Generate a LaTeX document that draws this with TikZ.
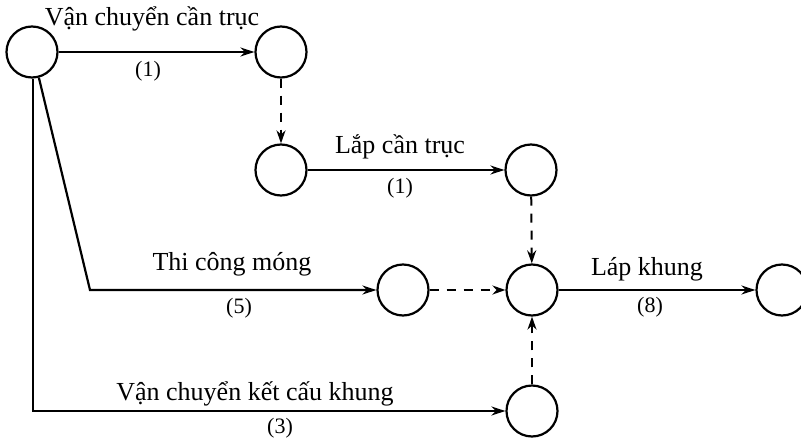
\documentclass[tikz,border=0pt]{standalone}
\usepackage{fontspec}
\setmainfont{Liberation Serif}
\usetikzlibrary{arrows.meta}
\begin{document}
\begin{tikzpicture}[x=1pt,y=-1pt,
  ev/.style={draw,circle,line width=2.2pt,minimum size=51pt,inner sep=0pt},
  act/.style={line width=2.2pt,-{Stealth[length=14pt,width=9pt]}},
  dum/.style={line width=2pt,dash pattern=on 9pt off 8pt,-{Stealth[length=13pt,width=9pt]}},
  lbl/.style={font=\fontsize{26}{30}\selectfont,anchor=base},
  num/.style={font=\fontsize{22}{26}\selectfont}]
\useasboundingbox (0,0) rectangle (801,442);
\node[ev] (A) at (32,52) {};
\node[ev] (B) at (281,52) {};
\node[ev] (C) at (281,170) {};
\node[ev] (D) at (531,170) {};
\node[ev] (E) at (403,290) {};
\node[ev] (F) at (532,290) {};
\node[ev] (G) at (782,290) {};
\node[ev] (H) at (532,411) {};
\coordinate (k1) at (90,290);
\coordinate (k2) at (33,411);
% activities
\draw[act] (A) -- (B);
\draw[act] (C) -- (D);
\draw[act] (A.-75) -- (k1) -- (E);
\draw[act] (A.south -| k2) -- (k2) -- (H);
\draw[act] (F) -- (G);
% dummies
\draw[dum] (B) -- (C);
\draw[dum] (D) -- (F);
\draw[dum] (E) -- (F);
\draw[dum] (H) -- (F);
% labels
\node[lbl] (t1) at (152,25) {Vận chuyển cần trục};
\node[num] (n1) at (148,71) {(1)};
\node[lbl] (t2) at (400,153) {Lắp cần trục};
\node[num] (n2) at (400,188) {(1)};
\node[lbl] (t3) at (232,270) {Thi công móng};
\node[num] (n3) at (239,308) {(5)};
\node[lbl] (t4) at (647,275) {Láp khung};
\node[num] (n4) at (650,307) {(8)};
\node[lbl] (t5) at (255,400) {Vận chuyển kết cấu khung};
\node[num] (n5) at (280,428) {(3)};
\end{tikzpicture}
\end{document}
